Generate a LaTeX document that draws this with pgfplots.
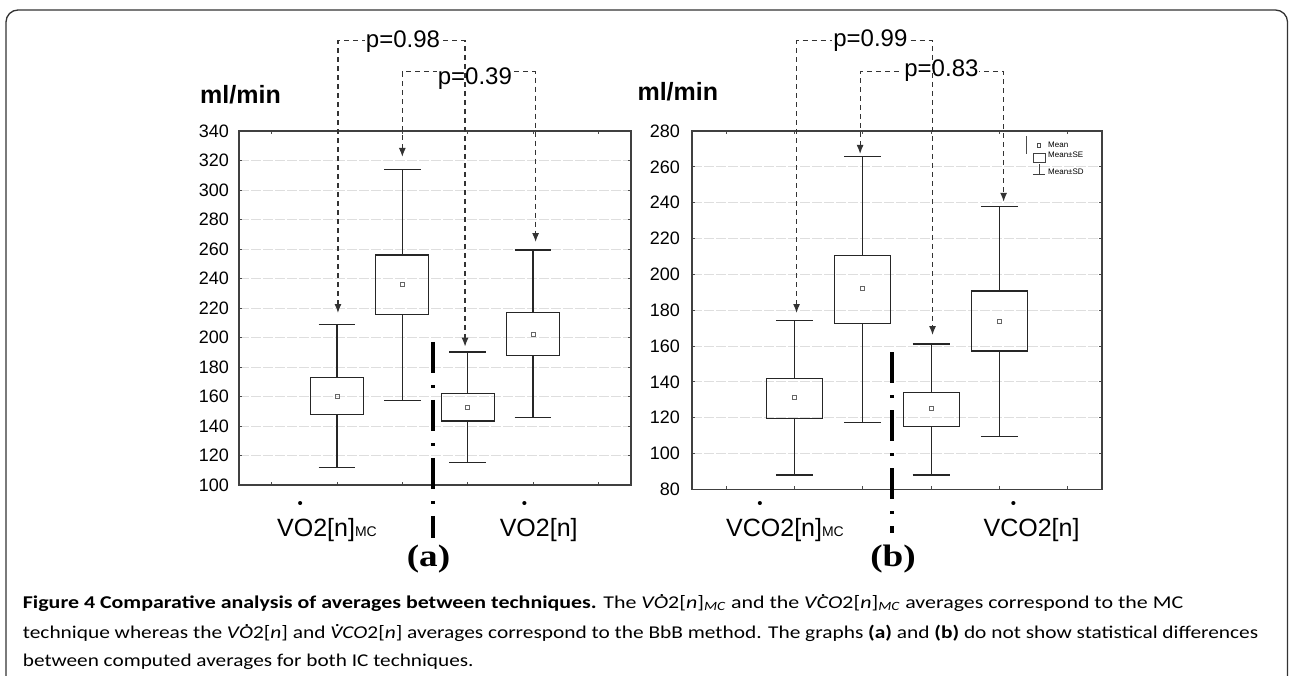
\documentclass[border=0pt]{standalone}
\usepackage{fontspec}
\setmainfont{Liberation Sans}
\newfontfamily\capfont{Carlito}
\newfontfamily\serfont{Liberation Serif}
\usepackage{pgfplots}
\pgfplotsset{compat=1.18}
\usepgfplotslibrary{statistics}
\usetikzlibrary{arrows.meta}
\newcommand{\dt}[1]{{\ooalign{#1\cr\hidewidth\kern0.12em\raisebox{0.66em}{.}\hidewidth\cr}}}
\pgfplotsset{
  panel/.style={
    scale only axis, anchor=south west, clip=false,
    xmin=0.5, xmax=6.5, xtick={1,...,6}, xticklabels={},
    major tick length=3pt, tick style={black!70, line width=0.8pt},
    axis line style={black!75, line width=1.3pt},
    ymajorgrids, major grid style={black!13, line width=0.8pt, dash pattern=on 10pt off 2pt},
    yticklabel style={font=\fontsize{18}{18}\selectfont},
    /pgf/number format/assume math mode=true,
    boxplot/draw direction=y,
    boxplot/draw/median/.code={},
  },
}
\tikzset{
  bx/.style={black!85, line width=1.1pt, solid},
  mn/.style={only marks, mark=square, mark size=2pt, black!60, line width=0.7pt},
  arr/.style={black!80, line width=1.2pt, dash pattern=on 5pt off 4pt,
     {Latex[length=9pt,width=7pt]}-{Latex[length=9pt,width=7pt]}},
  ptxt/.style={fill=white, inner sep=1pt, anchor=base, font=\fontsize{24}{24}\selectfont},
  sepline/.style={black, line width=4pt, dash pattern=on 31pt off 12pt on 3pt off 12pt},
  caplab/.style={anchor=base west, inner sep=0pt, font=\capfont\fontsize{18}{18}\selectfont},
}
\begin{document}
\begin{tikzpicture}
\useasboundingbox (0pt,0pt) rectangle (1289pt,-676pt);
% ---------------- panel (a)
\begin{axis}[panel, at={(239pt,-485pt)}, width=392pt, height=354pt,
  ymin=100, ymax=340, ytick={100,120,...,340},
  yticklabel style={xshift=-6.6pt}]
\addplot[bx, boxplot prepared={draw position=2, lower whisker=111.8, lower quartile=147.8, median=160.2, upper quartile=172.6, upper whisker=208.8, box extend=0.81, whisker extend=0.56}] coordinates {};
\addplot[bx, boxplot prepared={draw position=3, lower whisker=157.2, lower quartile=215.3, median=236, upper quartile=255.9, upper whisker=314, box extend=0.81, whisker extend=0.56}] coordinates {};
\addplot[bx, boxplot prepared={draw position=4, lower whisker=115, lower quartile=143.4, median=152.7, upper quartile=162.2, upper whisker=190.2, box extend=0.81, whisker extend=0.56}] coordinates {};
\addplot[bx, boxplot prepared={draw position=5, lower whisker=145.6, lower quartile=187.7, median=202.4, upper quartile=216.8, upper whisker=259.3, box extend=0.81, whisker extend=0.56}] coordinates {};
\addplot[mn] coordinates {(2,160.2) (3,236) (4,152.7) (5,202.4)};
\draw[sepline] (axis cs:3.47,197) -- (axis cs:3.47,64);
\draw[arr] (axis cs:3.0,322.4) -- (axis cs:3.0,380.2) -- (axis cs:5.04,380.2) -- (axis cs:5.04,264.7);
\node[ptxt] at (axis cs:4.11,371.2) {p=0.39};
\draw[arr] (axis cs:2.015,216.6) -- (axis cs:2.015,401.2) -- (axis cs:3.96,401.2) -- (axis cs:3.96,193.8);
\node[ptxt] at (axis cs:3.01,396.6) {p=0.98};
\end{axis}
% ---------------- panel (b)
\begin{axis}[panel, at={(692pt,-489.3pt)}, width=410pt, height=358.3pt,
  ymin=80, ymax=280, ytick={80,100,...,280},
  yticklabel style={xshift=-8.6pt},
  legend style={at={(rel axis cs:0.83,0.974)}, anchor=north west, draw=none, fill=none,
    font=\fontsize{8}{8}\selectfont, row sep=1.8pt, column sep=2pt, inner sep=0pt, nodes={inner sep=1pt}},
  legend cell align=left]
\addlegendimage{legend image code/.code={
   \draw[black!70, line width=0.6pt] (4.5pt,-1.8pt) rectangle (7.5pt,1.8pt);
   \draw[overlay, black!70, line width=0.6pt] (-6.3pt,9pt) -- (-6.3pt,-9pt);}}
\addlegendentry{Mean}
\addlegendimage{legend image code/.code={\draw[black!75, line width=0.7pt] (0pt,-6pt) rectangle (12pt,2.5pt);}}
\addlegendentry{Mean\textpm SE}
\addlegendimage{legend image code/.code={\draw[black!75, line width=0.7pt] (6pt,8pt)--(6pt,-2.3pt) (0pt,-2.3pt)--(12pt,-2.3pt);}}
\addlegendentry{Mean\textpm SD}
\addplot[bx, forget plot, boxplot prepared={draw position=2, lower whisker=88, lower quartile=119.6, median=131.4, upper quartile=142, upper whisker=174.1, box extend=0.82, whisker extend=0.545}] coordinates {};
\addplot[bx, forget plot, boxplot prepared={draw position=3, lower whisker=117.2, lower quartile=172.3, median=192, upper quartile=210.6, upper whisker=266, box extend=0.82, whisker extend=0.545}] coordinates {};
\addplot[bx, forget plot, boxplot prepared={draw position=4, lower whisker=88, lower quartile=115.3, median=125, upper quartile=134, upper whisker=161.1, box extend=0.82, whisker extend=0.545}] coordinates {};
\addplot[bx, forget plot, boxplot prepared={draw position=5, lower whisker=109.4, lower quartile=157.2, median=173.6, upper quartile=190.7, upper whisker=238.1, box extend=0.82, whisker extend=0.545}] coordinates {};
\addplot[mn, forget plot] coordinates {(2,131.4) (3,192) (4,125) (5,173.6)};
\draw[sepline] (axis cs:3.42,156.5) -- (axis cs:3.42,55.4);
\draw[arr] (axis cs:2.96,267.2) -- (axis cs:2.96,313.1) -- (axis cs:5.06,313.1) -- (axis cs:5.06,240.5);
\node[ptxt] at (axis cs:4.15,310.3) {p=0.83};
\draw[arr] (axis cs:2.03,178.4) -- (axis cs:2.03,330.4) -- (axis cs:4.02,330.4) -- (axis cs:4.02,166.1);
\node[ptxt] at (axis cs:3.11,327) {p=0.99};
\end{axis}
% ---------------- texts and frame (pixel coordinates)
\begin{scope}[x=1pt, y=-1pt]
\draw[black!80, line width=1.3pt, rounded corners=12pt] (6,700) -- (6,10) -- (1287.5,10) -- (1287.5,700);
\node[anchor=base west, font=\bfseries\fontsize{25}{25}\selectfont] at (196.7,103.3) {ml/min};
\node[anchor=base west, font=\bfseries\fontsize{25}{25}\selectfont] at (634,101) {ml/min};
\node[anchor=base west, font=\fontsize{25}{25}\selectfont, inner sep=0pt] at (277,536.7) {VO2[n]{\fontsize{14}{14}\selectfont MC}};
\node[font=\fontsize{15}{15}\selectfont, inner sep=0pt] at (300.3,505) {\textbullet};
\node[anchor=base west, font=\fontsize{25}{25}\selectfont, inner sep=0pt] at (499.6,536.7) {VO2[n]};
\node[font=\fontsize{15}{15}\selectfont, inner sep=0pt] at (524.5,505) {\textbullet};
\node[anchor=base west, font=\fontsize{25}{25}\selectfont, inner sep=0pt] at (726,536.7) {VCO2[n]{\fontsize{14}{14}\selectfont MC}};
\node[font=\fontsize{15}{15}\selectfont, inner sep=0pt] at (760,505) {\textbullet};
\node[anchor=base west, font=\fontsize{25}{25}\selectfont, inner sep=0pt] at (983.4,536.7) {VCO2[n]};
\node[font=\fontsize{15}{15}\selectfont, inner sep=0pt] at (1013.5,505) {\textbullet};
\node[anchor=base, font=\serfont\bfseries\fontsize{31}{31}\selectfont] at (428.5,566.7) {\scalebox{1.2}[1]{(a)}};
\node[anchor=base, font=\serfont\bfseries\fontsize{31}{31}\selectfont] at (893,566.7) {\scalebox{1.2}[1]{(b)}};
\node[caplab] at (22.7,608.3)
  {\resizebox{1160.3pt}{\height}{\textbf{Figure 4 Comparative analysis of averages between techniques.} The \textit{V\dt{O}}2[\textit{n}]\textsubscript{\textit{MC}} and the \textit{V\dt{C}O}2[\textit{n}]\textsubscript{\textit{MC}} averages correspond to the MC}};
\node[caplab] at (22.7,638.3)
  {\resizebox{1235.3pt}{\height}{technique whereas the \textit{V\dt{O}}2[\textit{n}] and \textit{\dt{V}CO}2[\textit{n}] averages correspond to the BbB method. The graphs \textbf{(a)} and \textbf{(b)} do not show statistical differences}};
\node[caplab] at (22.7,666.5)
  {\resizebox{450.6pt}{\height}{between computed averages for both IC techniques.}};
\end{scope}
\end{tikzpicture}
\end{document}
